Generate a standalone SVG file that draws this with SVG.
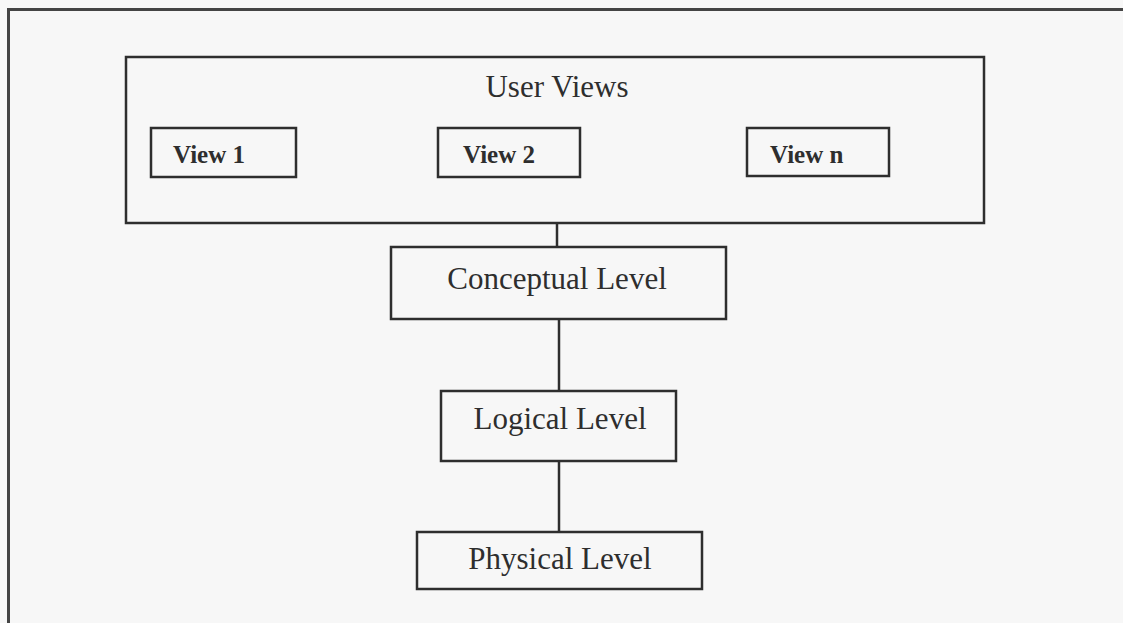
<svg xmlns="http://www.w3.org/2000/svg" width="1123" height="623" viewBox="0 0 1123 623">
<style>
.box{fill:none;stroke:#2e2e2e;stroke-width:2.5}
.lbl{font-family:"Liberation Serif","Times New Roman",serif;fill:#2e2e2e}
.lv{font-size:31px;text-anchor:middle}
.vw{font-size:25px;font-weight:bold}
.con{stroke:#2e2e2e;stroke-width:2.5;fill:none}
</style>
<rect x="0" y="0" width="1123" height="623" fill="#f7f7f7"/>
<path d="M8.5,623 V9.5 H1123" fill="none" stroke="#444" stroke-width="3"/>
<g id="user-views">
<rect class="box" x="126" y="57" width="858" height="166"/>
<text class="lbl" x="557" y="97" font-size="31" text-anchor="middle">User Views</text>
</g>
<g id="view-1">
<rect class="box" x="151" y="128" width="145" height="49"/>
<text class="lbl vw" x="173" y="163">View 1</text>
</g>
<g id="view-2">
<rect class="box" x="438" y="128" width="142" height="49"/>
<text class="lbl vw" x="463" y="163">View 2</text>
</g>
<g id="view-n">
<rect class="box" x="747" y="128" width="142" height="48"/>
<text class="lbl vw" x="770" y="163">View n</text>
</g>
<g id="conceptual-level">
<rect class="box" x="391" y="247" width="335" height="72"/>
<text class="lbl lv" x="557" y="289">Conceptual Level</text>
</g>
<g id="logical-level">
<rect class="box" x="441" y="391" width="235" height="70"/>
<text class="lbl lv" x="560" y="429">Logical Level</text>
</g>
<g id="physical-level">
<rect class="box" x="417" y="532" width="285" height="57"/>
<text class="lbl lv" x="560" y="569">Physical Level</text>
</g>
<g id="connectors">
<line class="con" x1="557" y1="223" x2="557" y2="247"/>
<line class="con" x1="559" y1="319" x2="559" y2="391"/>
<line class="con" x1="559" y1="461" x2="559" y2="532"/>
</g>
</svg>
